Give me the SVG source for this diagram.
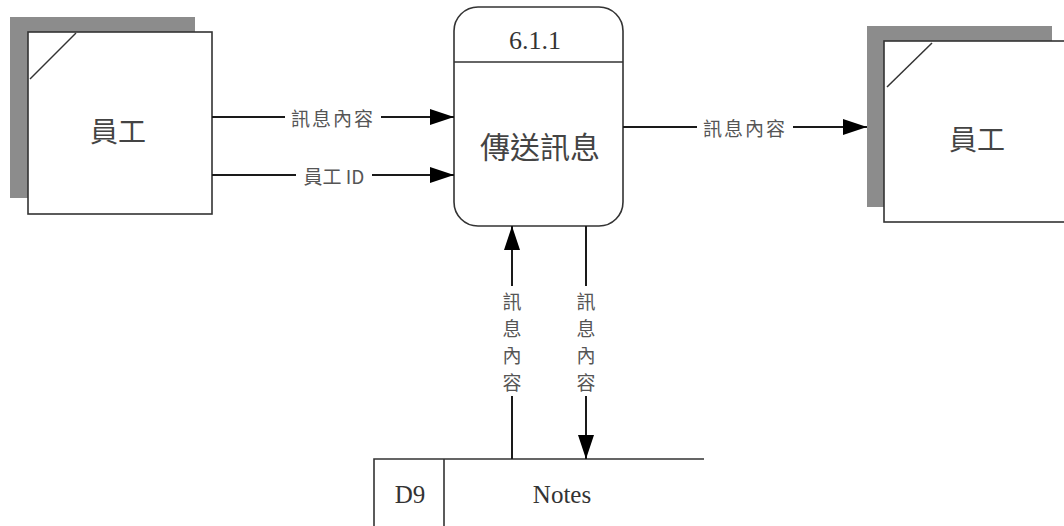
<svg xmlns="http://www.w3.org/2000/svg" width="1064" height="526" viewBox="0 0 1064 526">
<style>
.ln{stroke:#1a1a1a;stroke-width:2;fill:none}
.box{fill:#fff;stroke:#333;stroke-width:1.6}
.sh{fill:#8c8c8c}
.bg{fill:#fff}
.cjk{font-family:"Noto Sans CJK TC","Noto Sans CJK SC",sans-serif;fill:#444;text-anchor:middle;dominant-baseline:central}
.lat{font-family:"Liberation Serif",serif;fill:#333;text-anchor:middle}
.lbl{font-family:"Noto Sans CJK TC","Liberation Sans",sans-serif;font-size:19px;fill:#555;text-anchor:middle;dominant-baseline:central}
</style>
<defs>
<marker id="ah" viewBox="0 0 24 16" refX="24" refY="8" markerWidth="24" markerHeight="16" markerUnits="userSpaceOnUse" orient="auto">
<path d="M0,0 L24,8 L0,16 Z" fill="#000"/>
</marker>
</defs>
<rect width="1064" height="526" fill="#fff"/>
<g id="entity-left">
<rect class="sh" x="10" y="17" width="185" height="181"/>
<rect class="box" x="28" y="32" width="184" height="182"/>
<line x1="30" y1="79" x2="76" y2="33" stroke="#333" stroke-width="1.5"/>
<text class="cjk" x="118" y="130" font-size="28">員工</text>
</g>
<g id="process">
<rect class="box" x="454" y="7" width="169" height="219" rx="24" ry="24"/>
<line x1="454" y1="62" x2="623" y2="62" stroke="#333" stroke-width="1.6"/>
<text class="lat" x="535" y="49" font-size="26">6.1.1</text>
<text class="cjk" x="540" y="145" font-size="30">傳送訊息</text>
</g>
<g id="entity-right">
<rect class="sh" x="867" y="26" width="185" height="181"/>
<rect class="box" x="884" y="41" width="184" height="181"/>
<line x1="887" y1="87" x2="932" y2="43" stroke="#333" stroke-width="1.5"/>
<text class="cjk" x="977" y="138" font-size="28">員工</text>
</g>
<g id="store">
<path d="M704,459 L374,459 L374,526 M444,459 L444,526" stroke="#333" stroke-width="1.6" fill="none"/>
<text class="lat" x="410" y="503" font-size="25">D9</text>
<text class="lat" x="562" y="503" font-size="25">Notes</text>
</g>
<g id="connectors">
<line class="ln" x1="212" y1="117" x2="454" y2="117" marker-end="url(#ah)"/>
<rect class="bg" x="285" y="105" width="96" height="24"/>
<text class="lbl" x="333" y="117" letter-spacing="2">訊息內容</text>
<line class="ln" x1="212" y1="175" x2="454" y2="175" marker-end="url(#ah)"/>
<rect class="bg" x="296" y="163" width="76" height="24"/>
<text class="lbl" x="334" y="175">員工 ID</text>
<line class="ln" x1="623" y1="127" x2="867" y2="127" marker-end="url(#ah)"/>
<rect class="bg" x="697" y="115" width="96" height="24"/>
<text class="lbl" x="745" y="127" letter-spacing="2">訊息內容</text>
<line class="ln" x1="512" y1="459" x2="512" y2="226" marker-end="url(#ah)"/>
<rect class="bg" x="500" y="286" width="24" height="110"/>
<text class="lbl" x="512" y="300">訊</text>
<text class="lbl" x="512" y="327">息</text>
<text class="lbl" x="512" y="354">內</text>
<text class="lbl" x="512" y="381">容</text>
<line class="ln" x1="586" y1="226" x2="586" y2="459" marker-end="url(#ah)"/>
<rect class="bg" x="574" y="286" width="24" height="110"/>
<text class="lbl" x="586" y="300">訊</text>
<text class="lbl" x="586" y="327">息</text>
<text class="lbl" x="586" y="354">內</text>
<text class="lbl" x="586" y="381">容</text>
</g>
</svg>
